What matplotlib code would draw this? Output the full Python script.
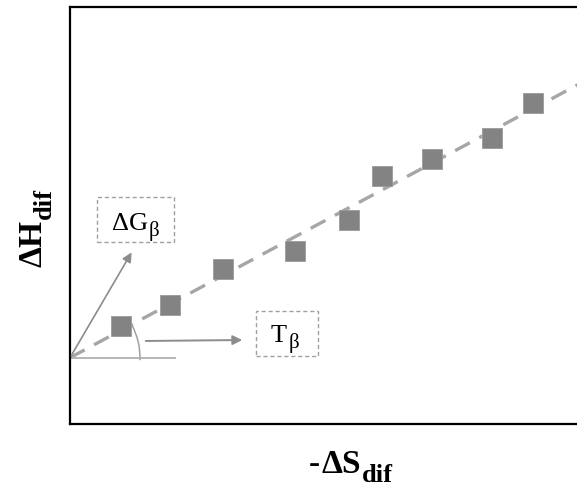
import numpy as np
import matplotlib.pyplot as plt
from matplotlib.patches import Rectangle, Arc
from matplotlib.transforms import IdentityTransform

plt.rcParams['font.family'] = 'Liberation Serif'

W, H = 577, 489

# -dS_dif vs dH_dif (arbitrary units)
neg_ds = [51, 100, 153, 225, 279, 312, 362, 422, 463]
dh = [98, 119, 155, 173, 204, 248, 265, 286, 321]

fig = plt.figure(figsize=(W / 100, H / 100), dpi=100)
ax = fig.add_axes([70 / W, 64 / H, 517 / W, 417 / H])
ax.set_xlim(0, 517)
ax.set_ylim(0, 417)
renderer = fig.canvas.get_renderer()


def piece(x, y, s, size, weight='normal', rotation=0):
    """Draw a text piece at pixel (x, y), y measured from the top, anchored left/baseline."""
    t = fig.text(x, H - y, s, fontsize=size, fontweight=weight, rotation=rotation,
                 rotation_mode='anchor', ha='left', va='baseline',
                 transform=IdentityTransform())
    return t.get_window_extent(renderer=renderer)


def sub_label(x, y, main, sub, size, sub_size, drop, weight='normal', rotation=0):
    """Main text followed by a lowered subscript."""
    bb = piece(x, y, main, size, weight, rotation)
    if rotation == 90:
        piece(x + drop, H - bb.y1 - 1, sub, sub_size, weight, rotation)
    else:
        piece(bb.x1 + 1, y + drop, sub, sub_size, weight, rotation)


# linear fit through the points
slope, icpt = np.polyfit(neg_ds, dh, 1)
xs = np.array([0, 517])
ax.plot(xs, icpt + slope * xs, color='#a6a6a6', lw=2.4, ls=(0, (5, 3.2)), zorder=2)
ax.plot(neg_ds, dh, ls='none', marker='s', ms=14, color='#838383', mec='#9a9a9a', mew=0.6, zorder=3)

# angle construction at the intercept
gray = '#8c8c8c'
ax.annotate('', xy=(63, 174), xytext=(0, icpt),
            arrowprops=dict(arrowstyle='-|>', color=gray, lw=1.2, mutation_scale=14))
ax.annotate('', xy=(175, 84), xytext=(73, 83),
            arrowprops=dict(arrowstyle='-|>', color=gray, lw=1.4, mutation_scale=14))
ax.plot([0, 105], [66, 66], color='#b0b0b0', lw=1.3)
theta = np.degrees(np.arctan(slope))
ax.add_patch(Arc((0, icpt), 140, 140, theta1=-2, theta2=theta, color='#a0a0a0', lw=1.1))

# dashed label boxes
ax.add_patch(Rectangle((27, 182), 77, 45, fill=False, ls=(0, (3, 2)), ec='#a0a0a0', lw=1.0))
ax.add_patch(Rectangle((186, 68), 62, 45, fill=False, ls=(0, (3, 2)), ec='#a0a0a0', lw=1.0))

ax.set_xticks([])
ax.set_yticks([])
for s in ax.spines.values():
    s.set_linewidth(1.6)

sub_label(112, 230, 'ΔG', 'β', 19, 15, 6)
sub_label(271, 342, 'T', 'β', 19, 15, 6)

# axis labels
bb = piece(309, 473, '-', 24)
sub_label(bb.x1 + 1, 473, 'ΔS', 'dif', 24, 19, 9, weight='bold')
sub_label(42, 267, 'ΔH', 'dif', 24, 19, 9, weight='bold', rotation=90)

fig.savefig('out.png', dpi=100)
